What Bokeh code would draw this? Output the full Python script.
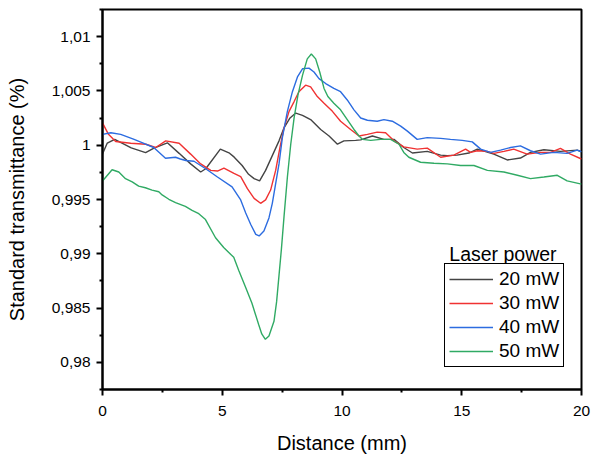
from bokeh.plotting import figure
from bokeh.models import FixedTicker, Legend, LegendItem, Label, Range1d
from bokeh.embed import file_html
from bokeh.resources import INLINE

# ---- data ----
x_20 = [0, 0.2, 0.51, 1.2, 1.8, 2.15, 2.71, 3.2, 3.68, 4.1,
        4.31, 4.92, 5.28, 5.5, 5.83, 6.1, 6.33, 6.56, 6.81, 7.09,
        7.37, 7.58, 7.83, 8.07, 8.35, 8.69, 9.11, 9.46, 9.81, 10.08,
        10.57, 10.78, 11.27, 11.75, 12.17, 12.58, 12.94, 13.56, 14.12, 14.4,
        14.8, 15.3, 15.65, 16.34, 16.9, 17.45, 17.87, 18.43, 19.12, 19.82,
        20]
y_20 = [0.9992, 1.0002, 1.00054, 0.99975, 0.99931, 0.99973, 1.00022, 0.99925, 0.99828, 0.99753,
        0.99783, 0.99964, 0.9993, 0.9989, 0.99813, 0.99732, 0.99692, 0.99671, 0.99768, 0.99904,
        1.0004, 1.0016, 1.00251, 1.00296, 1.00275, 1.00236, 1.00145, 1.00085, 1.00009, 1.0004,
        1.00045, 1.00049, 1.00085, 1.00054, 1.00054, 0.99979, 0.99928, 0.99943, 0.99909, 0.99904,
        0.99909, 0.99928, 0.99964, 0.99918, 0.99864, 0.99882, 0.99934, 0.99958, 0.99943, 0.99955,
        0.9994]

x_30 = [0, 0.25, 0.55, 1.18, 1.81, 2.22, 2.64, 3.2, 3.68, 4.1,
        4.52, 4.8, 5.07, 5.49, 5.77, 6.05, 6.33, 6.6, 6.81, 7.02,
        7.23, 7.41, 7.58, 7.79, 8.0, 8.2, 8.48, 8.69, 8.97, 9.25,
        9.6, 9.94, 10.36, 10.71, 11.06, 11.47, 11.82, 12.17, 12.58, 13.14,
        13.56, 14.12, 14.67, 15.16, 15.37, 15.65, 16.07, 16.34, 16.76, 17.17,
        17.73, 18.29, 18.71, 19.12, 19.54, 20]
y_30 = [1.00206, 1.0010, 1.00034, 1.00018, 1.00009, 0.99979, 1.0004, 1.00018, 0.99918, 0.99828,
        0.99768, 0.99762, 0.99789, 0.9974, 0.9971, 0.9960, 0.9951, 0.99465, 0.99496, 0.99587,
        0.99768, 0.9998, 1.0016, 1.00312, 1.00402, 1.00493, 1.00553, 1.00538, 1.00448, 1.00387,
        1.00312, 1.00221, 1.00145, 1.00085, 1.001, 1.00121, 1.00115, 1.0004, 0.99985, 0.99964,
        0.99973, 0.99889, 0.99909, 0.99964, 0.99934, 0.99949, 0.99943, 0.99925, 0.99943, 0.99964,
        0.99918, 0.99934, 0.99934, 0.9997, 0.99918, 0.99873]

x_40 = [0, 0.35, 0.76, 1.32, 1.65, 2.14, 2.63, 3.05, 3.25, 3.48,
        3.82, 4.31, 4.8, 5.41, 5.77, 5.98, 6.19, 6.4, 6.54, 6.74,
        6.95, 7.09, 7.23, 7.37, 7.51, 7.72, 7.93, 8.14, 8.35, 8.62,
        8.83, 9.04, 9.32, 9.66, 9.94, 10.22, 10.5, 10.78, 11.06, 11.47,
        11.75, 12.1, 12.45, 12.73, 13.14, 13.56, 14.12, 14.53, 15.02, 15.44,
        15.79, 16.2, 16.62, 17.04, 17.45, 17.87, 18.29, 18.84, 19.4, 19.82,
        20]
y_40 = [1.001, 1.00115, 1.001, 1.00054, 1.00024, 0.99979, 0.9988, 0.99889, 0.99873, 0.99859,
        0.99852, 0.99783, 0.99707, 0.99617, 0.99496, 0.99375, 0.9927, 0.99179, 0.99164, 0.99209,
        0.9933, 0.99465, 0.99647, 0.99828, 1.0007, 1.00312, 1.00493, 1.00629, 1.00704, 1.0071,
        1.00674, 1.00613, 1.00568, 1.00523, 1.00493, 1.00417, 1.00326, 1.00251, 1.0023, 1.00221,
        1.00236, 1.00221, 1.00176, 1.0013, 1.00054, 1.0007, 1.00063, 1.00054, 1.00045, 1.00031,
        0.99964, 0.99934, 0.99955, 0.99979, 0.99994, 0.99949, 0.99918, 0.99934, 0.99925, 0.99955,
        0.9994]

x_50 = [0, 0.4, 0.68, 0.96, 1.24, 1.51, 1.79, 2.07, 2.35, 2.49,
        2.77, 3.05, 3.46, 3.74, 4.02, 4.3, 4.72, 5.06, 5.48, 5.69,
        5.97, 6.24, 6.52, 6.65, 6.8, 6.95, 7.16, 7.27, 7.37, 7.47,
        7.58, 7.72, 7.86, 8.0, 8.16, 8.35, 8.55, 8.72, 8.9, 9.07,
        9.25, 9.41, 9.66, 9.94, 10.22, 10.5, 10.71, 10.85, 11.2, 11.61,
        12.03, 12.38, 12.58, 12.79, 13.28, 13.84, 14.4, 14.95, 15.51, 16.07,
        16.76, 17.32, 17.87, 18.43, 18.99, 19.4, 20]
y_50 = [0.9967, 0.99774, 0.99753, 0.99692, 0.99662, 0.99623, 0.99608, 0.99587, 0.99571, 0.99542,
        0.99502, 0.99472, 0.99436, 0.99399, 0.99369, 0.99315, 0.99148, 0.99058, 0.98967, 0.98847,
        0.98695, 0.98545, 0.98348, 0.98262, 0.98212, 0.98243, 0.98378, 0.98559, 0.98801, 0.99043,
        0.99345, 0.99707, 1.00009, 1.00251, 1.00462, 1.00643, 1.00795, 1.0084, 1.00795, 1.00674,
        1.00523, 1.00448, 1.00387, 1.00326, 1.00236, 1.00145, 1.00085, 1.00054, 1.00045, 1.00054,
        1.00054, 1.00009, 0.99934, 0.99889, 0.99843, 0.99834, 0.99828, 0.99813, 0.99813, 0.99768,
        0.99753, 0.99723, 0.99692, 0.99707, 0.99723, 0.99671, 0.99641]

series_labels = ["20 mW", "30 mW", "40 mW", "50 mW"]
series_colors = ["#444444", "#f03232", "#2c6ce0", "#30aa64"]
legend_title = "Laser power"

x_ticks = [0, 5, 10, 15, 20]
x_minor = [2.5, 7.5, 12.5, 17.5]
y_ticks = [0.98, 0.985, 0.99, 0.995, 1.0, 1.005, 1.01]
y_tick_labels = ["0,98", "0,985", "0,99", "0,995", "1", "1,005", "1,01"]
y_minor = [0.9775, 0.9825, 0.9875, 0.9925, 0.9975, 1.0025, 1.0075, 1.0125]

FONT = "Liberation Sans"

p = figure(width=592, height=456, output_backend="svg", toolbar_location=None,
           x_range=Range1d(0, 20), y_range=Range1d(0.9775, 1.0125),
           min_border_left=102, min_border_right=11, min_border_top=9,
           min_border_bottom=60)
p.title.visible = False
p.xgrid.visible = False
p.ygrid.visible = False
p.outline_line_color = "black"
p.outline_line_width = 2
p.outline_line_alpha = 1

renderers = []
for xs, ys, col in zip([x_20, x_30, x_40, x_50], [y_20, y_30, y_40, y_50], series_colors):
    r = p.line(xs, ys, line_color=col, line_width=1.4)
    renderers.append(r)

for ax in (p.xaxis[0], p.yaxis[0]):
    ax.axis_line_width = 2
    ax.major_tick_line_width = 2
    ax.minor_tick_line_width = 2
    ax.major_tick_out = 6
    ax.major_tick_in = 0
    ax.minor_tick_out = 3
    ax.minor_tick_in = 0
    ax.major_label_text_font = FONT
    ax.major_label_text_font_size = "15.5px"
    ax.major_label_text_color = "black"
    ax.axis_label_text_font = FONT
    ax.axis_label_text_font_size = "20px"
    ax.axis_label_text_font_style = "normal"
    ax.axis_label_text_color = "black"

p.xaxis.ticker = FixedTicker(ticks=x_ticks, minor_ticks=x_minor)
p.yaxis.ticker = FixedTicker(ticks=y_ticks, minor_ticks=y_minor)
p.yaxis.major_label_overrides = {t: l for t, l in zip(y_ticks, y_tick_labels)}
p.xaxis.axis_label = "Distance (mm)"
p.yaxis.axis_label = "Standard transmittance (%)"
p.xaxis.major_label_standoff = 10
p.xaxis.axis_label_standoff = 13
p.yaxis.major_label_standoff = 6
p.yaxis.axis_label_standoff = 21

legend = Legend(items=[LegendItem(label=l, renderers=[r]) for l, r in zip(series_labels, renderers)],
                location=(342, 22), border_line_color="black", border_line_width=1.3,
                border_line_alpha=1, background_fill_alpha=1, padding=4, spacing=2,
                glyph_width=44, glyph_height=22, label_height=22, label_standoff=6,
                label_text_font=FONT, label_text_font_size="19px",
                label_text_color="black", margin=0)
p.add_layout(legend)

p.add_layout(Label(x=16.72, y=0.98995, text=legend_title, text_align="center",
                   text_baseline="alphabetic", text_font=FONT, text_font_size="19.5px",
                   text_color="black"))

open("out.html", "w").write(file_html(p, INLINE))
